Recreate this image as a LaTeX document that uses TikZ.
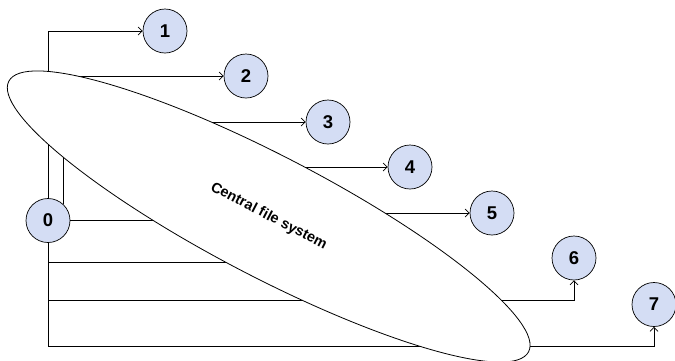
\documentclass[tikz,border=0pt]{standalone}
\usepackage{fontspec}
\setmainfont{Liberation Sans}
\usetikzlibrary{arrows.meta,shapes.geometric}
\definecolor{nodefill}{RGB}{212,221,244}
\tikzset{
  numnode/.style={circle, draw=black, line width=0.7pt, fill=nodefill, minimum size=44pt, inner sep=0pt,
    font=\bfseries\fontsize{18.5}{18.5}\selectfont},
  conn/.style={draw=black, line width=0.7pt, -{Straight Barb[length=4pt,width=8pt]}},
  fsnode/.style={ellipse, draw=black, line width=0.8pt, fill=white, minimum width=586pt, minimum height=121pt,
    inner sep=0pt, font=\bfseries\fontsize{14.5}{14.5}\selectfont}
}
\begin{document}
\begin{tikzpicture}[x=1pt,y=-1pt]
\useasboundingbox (0,0) rectangle (675,360);
\node[numnode] (n0) at (48,220.5) {0};
\node[numnode] (n1) at (165,31) {1};
\node[numnode] (n2) at (246,76) {2};
\node[numnode] (n3) at (328,122) {3};
\node[numnode] (n4) at (410,167) {4};
\node[numnode] (n5) at (492,213) {5};
\node[numnode] (n6) at (574,258) {6};
\node[numnode] (n7) at (654,304.5) {7};
\draw[conn] (n0.north) |- (n1.west);
\draw[conn] (n0.48) |- (n2.west);
\draw[conn] (n0.east) -- ++(110,0) |- (n3.west);
\draw[conn] (n0.south) |- ++(222,19.5) |- (n4.west);
\draw[conn] (n0.south) |- ++(292,57) |- (n5.west);
\draw[conn] (n0.south) |- ([yshift=-19.5pt]n6.south) -- (n6.south);
\draw[conn] (n0.south) |- ([yshift=-19.5pt]n7.south) -- (n7.south);
\node[fsnode, rotate=-27.5] (cfs) at (268.7,216.5) {Central file system};
\end{tikzpicture}
\end{document}
